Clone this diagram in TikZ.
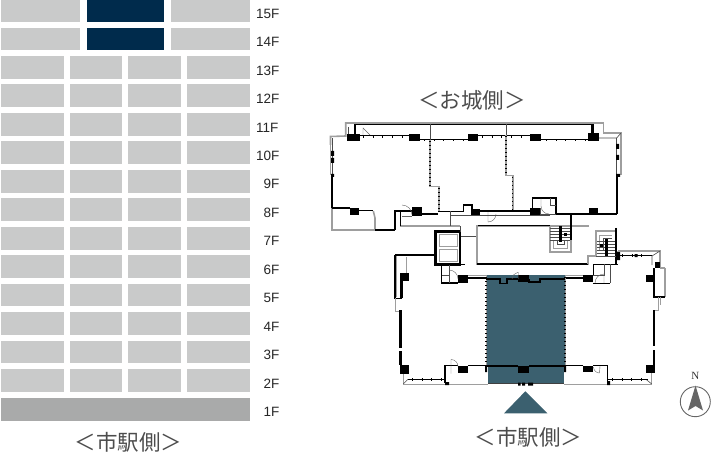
\documentclass[tikz,border=0pt]{standalone}
\usepackage{fontspec}
\setmainfont{Liberation Sans}
\newfontfamily\cjkf{Noto Sans CJK JP}
\newfontfamily\nserif{Liberation Serif}
\definecolor{flr}{HTML}{C9CACA}
\definecolor{flrone}{HTML}{A9AAAA}
\definecolor{navy}{HTML}{002B4C}
\definecolor{tealb}{HTML}{3B606F}
\definecolor{wgray}{HTML}{9E9E9E}
\tikzset{
  flrbox/.style={fill=flr,draw=none},
  flrlab/.style={font=\fontsize{13.5}{14}\selectfont,text=black!85,inner sep=0pt,anchor=west},
  side/.style={font=\cjkf\fontsize{21.5}{23}\selectfont,text=black!70,inner sep=0pt},
  wall/.style={draw=black,line width=1.6pt,line cap=butt},
  thick wall/.style={draw=black,line width=2.8pt},
  gwall/.style={draw=wgray,line width=1.6pt},
  thin wall/.style={draw=black!70,line width=.6pt},
  ticks/.style={draw=black,line width=2.6pt,dash pattern=on .7pt off 9pt},
  dots/.style={draw=black,line width=1.5pt,dash pattern=on 1pt off 3pt},
  col/.style={fill=black,draw=none},
  doorarc/.style={draw=black!60,line width=.4pt},
}
\begin{document}
\begin{tikzpicture}[x=1pt,y=-1pt]
\useasboundingbox (0,0) rectangle (714,454);
% ---------- section
\foreach \t [evaluate=\t as \b using \t+22.8] in {56,84.45,112.9,141.35,169.8,198.25,226.7,255.15,283.6,312.05,340.5,368.95}{
  \fill[flrbox] (1,\t) rectangle (63.5,\b);
  \fill[flrbox] (70,\t) rectangle (122,\b);
  \fill[flrbox] (128,\t) rectangle (181,\b);
  \fill[flrbox] (187,\t) rectangle (250,\b);
}
\foreach \t/\b in {-1/22,27.7/50.5}{
  \fill[flrbox] (1,\t) rectangle (79.5,\b);
  \fill[navy] (87,\t) rectangle (164,\b);
  \fill[flrbox] (171,\t) rectangle (250,\b);
}
\fill[flrone] (1,398) rectangle (250,421);
\foreach \n/\y in {15/13.5,14/42,13/70.5,12/99,11/127.4,10/155.8,9/184.3,8/212.7,7/241.2,6/269.6,5/298,4/326.5,3/355,2/383.4,1/411.8}{
  \node[flrlab] (f\n) at (\ifnum\n<10 263.5\else 256\fi,\y) {\n F};
}
\node[side] (lblwest) at (128.3,442.5) {＜市駅側＞};
\node[side] (lblnorth) at (472,100) {＜お城側＞};
\node[side] (lblsouth) at (528.3,437) {＜市駅側＞};
% ---------- teal unit
\fill[tealb] (486,275) rectangle (565,366);
\fill[tealb] (488.3,366) rectangle (564,384);
\fill[tealb] (504,413.3) -- (547.3,413.3) -- (525.3,391.3) -- cycle;
% ---------- north wing: gray parapets
\draw[gwall] (355,123) -- (345.7,123) -- (345.7,136) -- (330.5,136.5) -- (330.5,145);
\draw[gwall] (330.5,145) -- (330.5,175);
\draw[gwall] (353,123) -- (603.3,123) -- (603.3,133) -- (621,133) -- (621,175);
\draw[thin wall] (621,133) -- (616.7,138) -- (599,138);
\draw[thin wall] (348,127) -- (348,134);
\draw[gwall,line width=2pt] (332,208) -- (332,230) -- (375,230);
\draw[gwall,line width=2pt] (400,226.5) -- (460,226.5);
% ---------- north wing: black walls
\draw[wall,line width=1.2pt] (355,124.3) -- (593,124.3);
\draw[thick wall] (355,124) -- (355,134);
\draw[thick wall] (592.7,124) -- (592.7,134);
\draw[wall] (358,135.7) -- (410,135.7);
\draw[wall,line width=1pt] (420,140) -- (468,140);
\draw[wall] (478,135.5) -- (530,135.5);
\draw[wall,line width=1pt] (541,140) -- (590,140);
\draw[ticks] (363,137) -- (410,137);
\draw[ticks] (424,140) -- (468,140);
\draw[ticks] (482,137) -- (530,137);
\draw[ticks] (546,140) -- (590,140);
\draw[wall] (332,175) -- (332,208);
\draw[thin wall] (332,138) -- (332,175);
\draw[wall] (616.7,175) -- (616.7,214);
\draw[thin wall] (616.7,138) -- (616.7,175);
\fill[black] (331,151) rectangle (334,156) (331,158) rectangle (334,163) (331,174) rectangle (334,177);
\fill[black] (616,144) rectangle (619,149) (616,155) rectangle (619,160) (616,174) rectangle (620,177);
\foreach \a/\b/\c/\d in {347/134/360/141,409/134/420/141,468/134/478/141,530/134/541/141,588/133/599/141,
  350/207.7/359.3/215,411.7/207.3/421.7/215.7,470.7/209/480/215,530/208/540.7/215,589/208/598/214}{
  \fill[col] (\a,\b) rectangle (\c,\d);
}
% partitions
\draw[thin wall] (430,124) -- (430,140);
\draw[thin wall] (506,124) -- (506,135);
\draw[gwall] (430,140) -- (430,186.7) -- (439,186.7) -- (439,211.7);
\draw[gwall] (506,135) -- (506,175.7) -- (512.7,175.7) -- (512.7,211);
\draw[dots] (430,141) -- (430,186.7) (439,188) -- (439,211.7) (506,136) -- (506,175.7) (512.7,177) -- (512.7,211);
% south edge of north wing
\draw[wall] (332,208.3) -- (350,208.3);
\draw[wall] (359,210.7) -- (373.3,210.7);
\draw[gwall] (373.3,211) -- (375,218) -- (375,230);
\draw[thick wall] (375,230) -- (395,230);
\draw[wall] (395,230.5) -- (395,211) -- (411.7,211);
\draw[wall,line width=1pt] (400,211) -- (400,226);
\draw[wall] (421.7,214) -- (438.3,214);
\draw[wall] (438.3,211.5) -- (463.3,211.5) -- (463.3,205) -- (471.7,205) -- (471.7,209);
\draw[wall] (480,211) -- (530,211);
\draw[ticks] (484,211) -- (530,211);
\draw[ticks] (424,214) -- (438,214);
\draw[wall] (532.3,208) -- (532.3,198.3) -- (555.7,198.3) -- (555.7,214) -- (616.7,214);
\draw[thin wall] (540.7,208) -- (540.7,214) -- (555.7,214);
\draw[thin wall] (550.5,198.3) -- (550.5,205) -- (555.7,205);
\draw[doorarc] (363,135) -- (363,128) -- (370,135);
\draw[doorarc] (402,216) -- (412,216);
\draw[doorarc] (412,215) arc[start angle=0,end angle=90,radius=10pt];
\draw[doorarc] (488,212) -- (488,222) arc[start angle=-90,end angle=0,radius=8pt];
\draw[doorarc] (541,198.5) -- (541,206) arc[start angle=180,end angle=270,radius=8pt];
% core
\draw[thin wall] (450,211) -- (450,226.5);
\draw[thin wall] (450,215) -- (550,215);
\draw[gwall,line width=1.8pt] (476.7,226) rectangle (588,264);
\draw[wall,line width=1.1pt] (478,225.7) -- (550,225.7);
\draw[wall,line width=1.2pt] (477,264) -- (588,264);
\fill[white] (550,226.9) rectangle (588.9,254.8);
\draw[gwall] (588,264) -- (588,255.7) -- (596,255.7);
\draw[thick wall,line width=1.7pt] (571.3,214) -- (571.3,240);
% left stair
\draw[gwall] (550,226) -- (550,251.7) -- (571,251.7) -- (571,240);
\draw[gwall,line width=.8pt] (553.5,240) -- (553.5,248) -- (567.5,248) -- (567.5,240);
\draw[thin wall,line width=.4pt] (557,240) -- (557,244.5) -- (564,244.5) -- (564,240);
\foreach \y in {228,231,234,237,240}{\draw[thin wall] (550,\y) -- (570,\y);}
\fill[black] (559,226) rectangle (561.7,241.7);
\fill[black] (564,233) rectangle (567,236);
% right stair
\draw[gwall] (595.7,256) -- (595.7,231) -- (616,231);
\draw[gwall,line width=.8pt] (599.5,250) -- (599.5,235) -- (612,235);
\draw[thin wall,line width=.4pt] (603,250) -- (603,238.5) -- (612,238.5);
\foreach \y in {241,244,247,250,253}{\draw[thin wall] (597,\y) -- (615,\y);}
\fill[black] (605,239) rectangle (607.5,256);
\fill[black] (600,244) rectangle (603,247);
\draw[thick wall,line width=1.7pt] (616,228) -- (616,265);
\draw[thin wall] (596,256.5) -- (616,256.5);
% elevators
\draw[thick wall] (435.7,231.7) rectangle (460,264.3);
\draw[gwall,line width=1pt] (439,235) rectangle (457.7,246.7);
\draw[gwall,line width=1pt] (439,249) rectangle (457.7,261.7);
\draw[thin wall] (460.7,236.7) -- (476,236.7);
\draw[thin wall] (460.7,226.5) -- (460.7,232);
% ---------- south wing west
\draw[wall,line width=1.8pt] (395,255) -- (436,255);
\draw[wall,line width=1.3pt] (395,255) -- (395,298.3) -- (401.7,298.3);
\draw[gwall,line width=.8pt] (396.5,256) -- (396.5,297);
\draw[thick wall] (401.7,273) -- (401.7,298.3);
\draw[gwall,line width=1pt] (406,256.5) -- (406,273);
\draw[gwall,line width=1pt] (395,298.3) -- (395,311) -- (400,311);
\draw[thick wall] (400.7,310) -- (400.7,365);
\fill[white] (398,348) rectangle (402,351);
\foreach \a/\b/\c/\d in {400/273.3/409.3/281,400/365/409.3/374,458.3/366/468.3/372.7,458.3/275/468.3/283,
  583.3/365.7/593.3/372.3,583.3/275/593.3/282.3,646/275/654/282.3,646/365/655/373.3,518.3/275/529.3/282.3,518.3/365.7/529.3/372.7}{
  \fill[col] (\a,\b) rectangle (\c,\d);
}
\draw[gwall,line width=1pt] (403.3,374) -- (403.3,384) -- (445,384);
\draw[thin wall] (403.3,384) -- (408,379.3);
\draw[wall,line width=.9pt] (408,379.3) -- (445,379.3);
\draw[ticks] (412,379.3) -- (445,379.3);
\draw[wall,line width=1.1pt] (445,383) -- (445,365.7) -- (458.3,365.7);
\draw[wall,line width=1.1pt] (468.3,365.7) -- (487,365.7);
\draw[gwall,line width=1.2pt] (446,384.3) -- (488.3,384.3);
\draw[wall,line width=1pt] (445,383) -- (449,383);
\draw[wall,line width=1.1pt] (441.7,264.3) -- (441.7,283) -- (458.3,283);
\draw[thin wall] (449,264.3) -- (449,283);
\draw[thin wall] (441.7,275) -- (449,275);
\draw[wall,line width=1.1pt] (436,264.3) -- (465,264.3);
\draw[doorarc] (449,270) arc[start angle=90,end angle=0,radius=9pt];
\draw[doorarc] (458,366.5) arc[start angle=0,end angle=90,radius=7pt] -- (451,373.5);
\draw[gwall,line width=1pt] (468.3,275) -- (487,275);
\draw[wall] (468.3,277.8) -- (486,277.8);
% ---------- south wing east
\draw[wall,line width=1.1pt] (618.3,255.7) -- (651.7,255.7);
\draw[ticks] (622,255.7) -- (651,255.7);
\fill[black] (616.7,251.7) rectangle (620,260) (634.5,254) rectangle (637.5,257);
\draw[gwall,line width=1.1pt] (618.3,251) -- (660,251) -- (660,268);
\draw[thin wall] (660,251) -- (652,256) -- (652,265);
\fill[black] (655,262) rectangle (660,268);
\draw[wall,line width=1.3pt] (593.3,275) -- (593.3,264.3) -- (617.7,264.3);
\draw[thin wall] (610,264.3) -- (610,283.3);
\draw[thin wall] (604,264.3) -- (604,275) -- (593.3,275);
\draw[wall,line width=1.1pt] (593,283.3) -- (610,283.3);
\draw[doorarc] (595,283) arc[start angle=180,end angle=90,radius=9pt] -- (604,283);
\draw[gwall,line width=1pt] (565,275) -- (583.3,275);
\draw[wall] (565,277.7) -- (583.3,277.7);
\draw[gwall,line width=1.1pt] (665,268) -- (665,296.7);
\draw[gwall,line width=1.1pt] (660,268) -- (665,268);
\draw[wall,line width=1.9pt] (654.2,268) -- (654.2,296.7) -- (665,296.7);
\draw[gwall,line width=1pt] (658.5,297) -- (658.5,310) -- (655,310);
\draw[gwall,line width=1pt] (660.7,297) -- (660.7,305);
\draw[thick wall] (654,310) -- (654,365);
\fill[white] (652.5,346) rectangle (656,350);
\draw[gwall,line width=1pt] (651.7,373) -- (651.7,384) -- (608.3,384);
\draw[thin wall] (651.7,384) -- (646,379.3);
\draw[wall,line width=.9pt] (608.3,379.3) -- (648,379.3);
\draw[ticks] (612,379.3) -- (648,379.3);
\draw[wall,line width=1.1pt] (607.3,383) -- (607.3,365.3) -- (593.3,365.3);
\draw[wall,line width=1.1pt] (583.3,365.3) -- (565,365.3);
\draw[gwall,line width=1.2pt] (564,384.3) -- (607.3,384.3);
\draw[doorarc] (593.5,367) arc[start angle=180,end angle=270,radius=6pt] -- (600,366);
% ---------- teal unit details
\draw[gwall,line width=1pt] (486,275) -- (486,366);
\draw[gwall,line width=1pt] (565,275) -- (565,366);
\draw[dots,line width=1.1pt] (486,277) -- (486,366);
\draw[dots,line width=1.1pt] (565,277) -- (565,366);
\draw[wall,line width=1.1pt] (486,279) -- (500,279) -- (500,283.5) -- (507,283.5) -- (507,279) -- (518,279);
\draw[wall,line width=1.1pt] (529,279) -- (529,282) -- (540,282) -- (540,279) -- (565,279);
\draw[doorarc] (512,279) arc[start angle=180,end angle=100,radius=6.5pt] -- (518.5,272.5) -- (518.5,279);
\draw[wall,line width=1.1pt] (486,366) -- (518,366);
\draw[wall,line width=1.1pt] (529,366) -- (565,366);
\draw[ticks,line width=2pt] (490,366) -- (518,366);
\draw[ticks,line width=2pt] (533,366) -- (563,366);
\draw[black!75,line width=1.3pt] (488.3,383.4) -- (564,383.4);
\fill[black] (518,382.5) rectangle (520.5,385.5) (522,382.5) rectangle (525,385.5) (528,382.5) rectangle (533,385.5);
\fill[black] (485,366) rectangle (487,372) (564,366) rectangle (566,372);
\fill[black] (445,382) rectangle (449,385) (607,381) rectangle (610,385);
% ---------- compass
\node[font=\nserif\fontsize{11}{12}\selectfont,text=black!80,inner sep=0pt] (north) at (695.3,375.5) {N};
\draw[black!60,line width=.9pt] (695.3,401.7) circle[radius=15];
\fill[black!60] (695.5,385.5) -- (703,410.5) -- (695.5,406) -- (688,410.5) -- cycle;
\end{tikzpicture}
\end{document}
